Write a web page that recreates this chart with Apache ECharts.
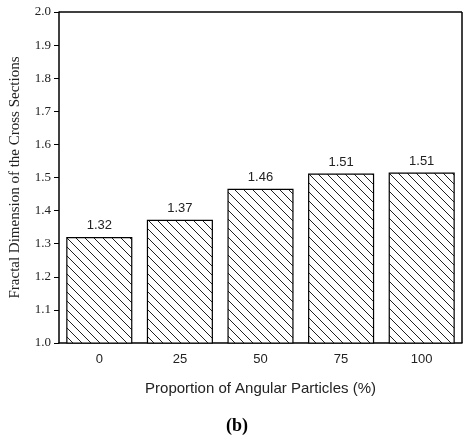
<!DOCTYPE html><html><head><meta charset="utf-8"><script src="https://cdn.jsdelivr.net/npm/echarts@6/dist/echarts.min.js"></script></head><body style="margin:0;background:#fff"><div id="c" style="width:474px;height:442px"></div><script>
const categories=['0','25','50','75','100'];
const values=[1.32,1.372,1.466,1.512,1.515];
const labels=['1.32','1.37','1.46','1.51','1.51'];
const cv=document.createElement('canvas');cv.width=9;cv.height=9;
const g=cv.getContext('2d');g.fillStyle='#fff';g.fillRect(0,0,9,9);g.strokeStyle='#222';g.lineWidth=1;
g.beginPath();g.moveTo(0,0);g.lineTo(9,9);g.moveTo(-5,4);g.lineTo(5,14);g.moveTo(4,-5);g.lineTo(14,5);g.stroke();
const ch=echarts.init(document.getElementById('c'));
ch.setOption({animation:false,
title:{text:'(b)',left:'center',top:412,textStyle:{fontFamily:'Liberation Serif',fontWeight:'bold',fontSize:18,color:'#000'}},
grid:{left:55,right:12,top:12,bottom:99},
xAxis:{type:'category',data:categories,name:'Proportion of Angular Particles (%)',nameLocation:'middle',nameGap:38,
nameTextStyle:{fontFamily:'Liberation Sans',fontSize:15,color:'#222'},
axisLine:{lineStyle:{color:'#000',width:1.5}},axisTick:{alignWithLabel:true,length:5,lineStyle:{color:'#000'}},
axisLabel:{fontFamily:'Liberation Sans',fontSize:13,color:'#222',margin:10}},
yAxis:{type:'value',min:1.0,max:2.0,interval:0.1,name:'Fractal Dimension of the Cross Sections',nameLocation:'middle',nameGap:36,
nameTextStyle:{fontFamily:'Liberation Serif',fontSize:15,color:'#222'},
axisLine:{show:true,lineStyle:{color:'#000',width:1.5}},axisTick:{show:true,length:5,lineStyle:{color:'#000'}},
splitLine:{show:false},axisLabel:{fontFamily:'Liberation Serif',fontSize:13,color:'#222',formatter:v=>v.toFixed(1)}},
series:[{type:'bar',data:values,barWidth:'82%',
itemStyle:{color:{image:cv,repeat:'repeat'},borderColor:'#000',borderWidth:1.2},
label:{show:true,position:'top',distance:5,fontFamily:'Liberation Sans',fontSize:13,color:'#222',formatter:p=>labels[p.dataIndex]},
markLine:{silent:true,symbol:'none',label:{show:false},lineStyle:{color:'#000',width:1.5,type:'solid'},
data:[{yAxis:2.0},[{coord:['100',1.0],x:462},{coord:['100',2.0],x:462}]]}}]});
</script></body></html>
